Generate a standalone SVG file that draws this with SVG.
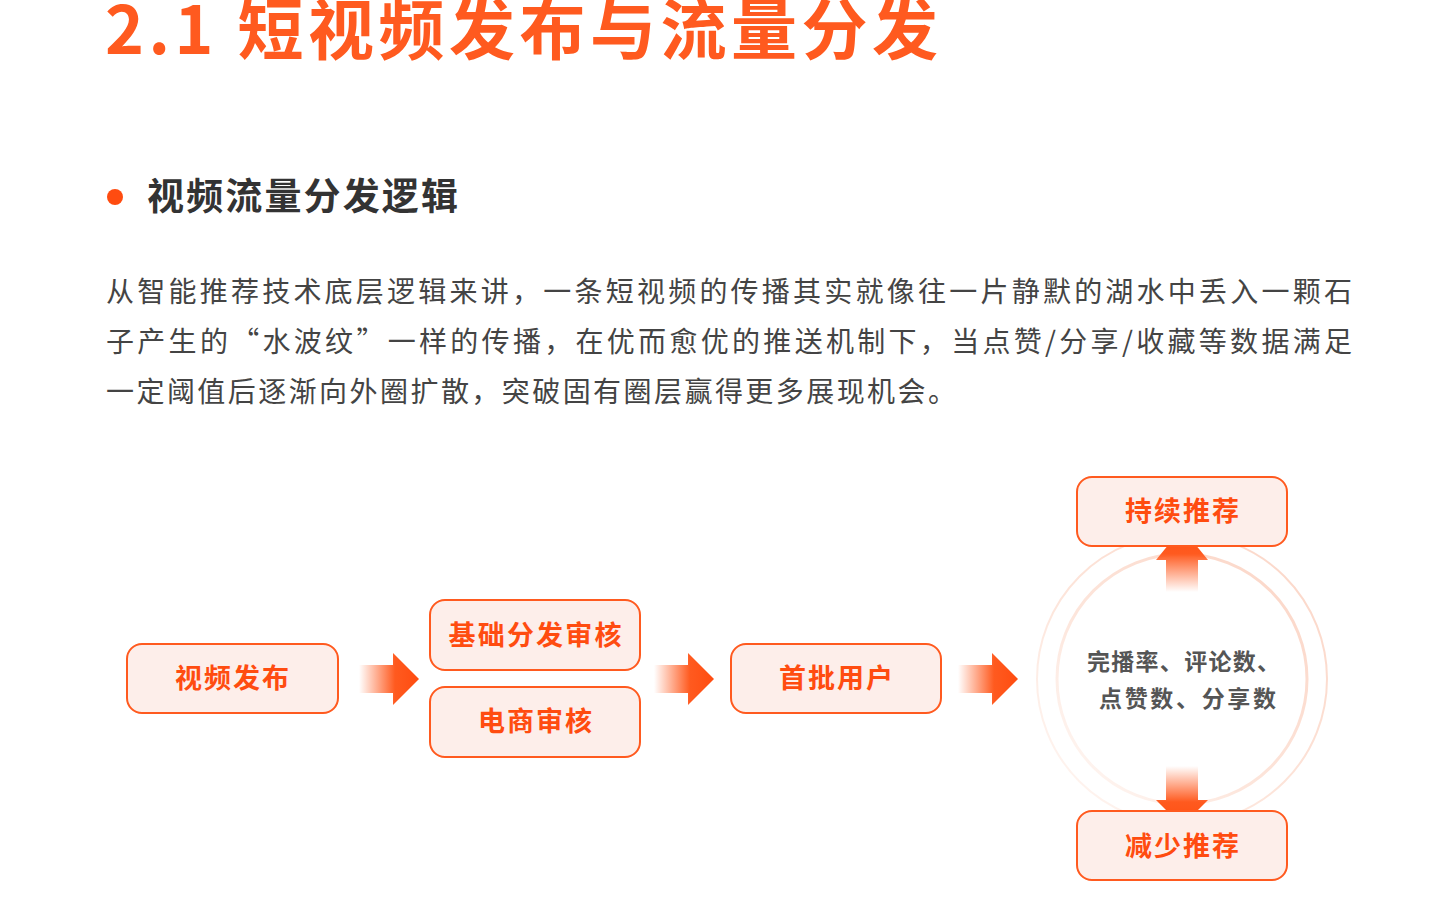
<svg xmlns="http://www.w3.org/2000/svg" width="1454" height="900" viewBox="0 0 1454 900">
<style>
.cjk{font-family:"Noto Sans CJK SC","Noto Sans",sans-serif}
.box{fill:#fdeeea;stroke:#ff5a1f;stroke-width:2}
.bt{font-family:"Noto Sans CJK SC",sans-serif;font-size:27px;font-weight:bold;fill:#ff4c10;text-anchor:middle}
.body{font-family:"Noto Sans CJK SC",sans-serif;font-size:28px;fill:#444}
</style>
<defs>
<linearGradient id="ha" x1="0" x2="1" y1="0" y2="0"><stop offset="0" stop-color="#ff5a1f" stop-opacity="0"/><stop offset="0.6" stop-color="#ff5a1f"/><stop offset="1" stop-color="#ff4c10"/></linearGradient>
<linearGradient id="up" x1="0" x2="0" y1="1" y2="0"><stop offset="0" stop-color="#ff5a1f" stop-opacity="0"/><stop offset="0.6" stop-color="#ff5a1f"/><stop offset="1" stop-color="#ff4c10"/></linearGradient>
<linearGradient id="dn" x1="0" x2="0" y1="0" y2="1"><stop offset="0" stop-color="#ff5a1f" stop-opacity="0"/><stop offset="0.6" stop-color="#ff5a1f"/><stop offset="1" stop-color="#ff4c10"/></linearGradient>
<linearGradient id="ring" x1="1" y1="0" x2="0" y2="1"><stop offset="0" stop-color="#fbd5c6"/><stop offset="0.6" stop-color="#fde6dc"/><stop offset="1" stop-color="#fde6dc" stop-opacity="0.2"/></linearGradient>
<path id="harr" d="M0,12 H34 V0 L60,26 L34,52 V40 H0 Z"/>
</defs>
<text x="105" y="54" class="cjk" font-size="66" font-weight="bold" fill="#ff5a1f" textLength="833" lengthAdjust="spacing">2.1  短视频发布与流量分发</text>
<circle cx="115" cy="197" r="8" fill="#ff4c10"/>
<text x="147" y="210" class="cjk" font-size="37" font-weight="bold" fill="#333" textLength="311" lengthAdjust="spacing">视频流量分发逻辑</text>
<text class="body" x="106" y="302" textLength="1246" lengthAdjust="spacing">从智能推荐技术底层逻辑来讲，一条短视频的传播其实就像往一片静默的湖水中丢入一颗石</text>
<text class="body" x="106" y="352" textLength="1246" lengthAdjust="spacing">子产生的“水波纹”一样的传播，在优而愈优的推送机制下，当点赞/分享/收藏等数据满足</text>
<text class="body" x="106" y="402" textLength="850" lengthAdjust="spacing">一定阈值后逐渐向外圈扩散，突破固有圈层赢得更多展现机会。</text>
<g id="ring-g">
<circle cx="1182" cy="679" r="145" fill="none" stroke="url(#ring)" stroke-width="2"/>
<circle cx="1182" cy="679" r="125" fill="none" stroke="url(#ring)" stroke-width="3"/>
<text x="1087" y="670" class="cjk" font-size="23" font-weight="bold" fill="#555" textLength="193" lengthAdjust="spacing">完播率、评论数、</text>
<text x="1099" y="707" class="cjk" font-size="23" font-weight="bold" fill="#555" textLength="177" lengthAdjust="spacing">点赞数、分享数</text>
</g>
<g id="connectors">
<use href="#harr" x="359" y="653" fill="url(#ha)"/>
<use href="#harr" x="654" y="653" fill="url(#ha)"/>
<use href="#harr" x="958" y="653" fill="url(#ha)"/>
<path d="M1166,592 V560 H1156 L1182,528 L1208,560 H1198 V592 Z" fill="url(#up)"/>
<path d="M1166,766 V800 H1156 L1182,826 L1208,800 H1198 V766 Z" fill="url(#dn)"/>
</g>
<g id="n1"><rect class="box" x="127" y="644" width="211" height="69" rx="15"/><text class="bt" x="232" y="688" textLength="114" lengthAdjust="spacing">视频发布</text></g>
<g id="n2"><rect class="box" x="430" y="600" width="210" height="70" rx="15"/><text class="bt" x="535" y="645" textLength="173" lengthAdjust="spacing">基础分发审核</text></g>
<g id="n3"><rect class="box" x="430" y="687" width="210" height="70" rx="15"/><text class="bt" x="535" y="731" textLength="114" lengthAdjust="spacing">电商审核</text></g>
<g id="n4"><rect class="box" x="731" y="644" width="210" height="69" rx="15"/><text class="bt" x="836" y="688" textLength="114" lengthAdjust="spacing">首批用户</text></g>
<g id="n5"><rect class="box" x="1077" y="477" width="210" height="69" rx="15"/><text class="bt" x="1182" y="521" textLength="114" lengthAdjust="spacing">持续推荐</text></g>
<g id="n6"><rect class="box" x="1077" y="811" width="210" height="69" rx="15"/><text class="bt" x="1182" y="856" textLength="114" lengthAdjust="spacing">减少推荐</text></g>
</svg>
